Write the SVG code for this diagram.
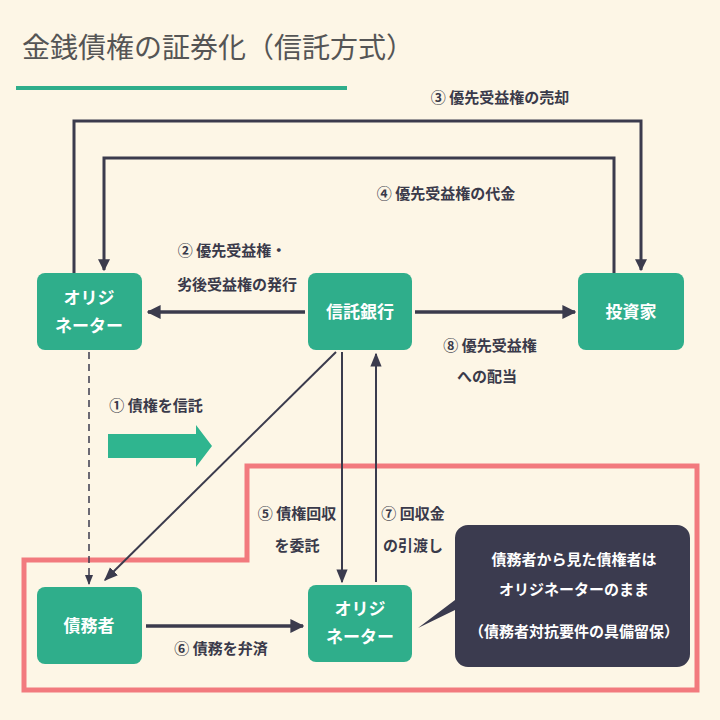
<svg xmlns="http://www.w3.org/2000/svg" width="720" height="720" viewBox="0 0 720 720">
<defs>
<style>
text{font-family:"Noto Sans CJK JP","Noto Sans",sans-serif;}
.lbl{font-size:15px;font-weight:bold;fill:#3a3a4a;text-anchor:middle;}
.node rect{fill:#2fae8b;}
.nt{font-size:17px;font-weight:bold;fill:#fff;text-anchor:middle;}
.ln{stroke:#3b3b4d;fill:none;}
</style>
<marker id="ah" viewBox="0 0 10 10" refX="9" refY="5" markerWidth="4" markerHeight="4" orient="auto"><path d="M0,0L10,5L0,10z" fill="#3b3b4d"/></marker>
<marker id="as" viewBox="0 0 10 10" refX="9" refY="5" markerWidth="7" markerHeight="7" orient="auto"><path d="M0,1L10,5L0,9z" fill="#3b3b4d"/></marker>
</defs>
<rect width="720" height="720" fill="#fdf6e6"/>
<text x="22" y="58" font-size="28" fill="#555">金銭債権の証券化（信託方式）</text>
<rect x="16" y="86" width="331" height="4" fill="#2fae8b"/>
<polygon points="24,560 247,560 247,466 697,466 697,690 24,690" fill="none" stroke="#f27a7e" stroke-width="5"/>
<g id="connectors">
<polyline class="ln" stroke-width="3" points="74,273 74,121 641,121 641,270" marker-end="url(#ah)"/>
<polyline class="ln" stroke-width="3" points="614,273 614,158 104,158 104,270" marker-end="url(#ah)"/>
<line class="ln" stroke-width="3.5" x1="305" y1="312" x2="148" y2="312" marker-end="url(#ah)"/>
<line class="ln" stroke-width="3.5" x1="415" y1="312" x2="575" y2="312" marker-end="url(#ah)"/>
<line class="ln" stroke-width="1.5" stroke-dasharray="7,5" x1="89" y1="352" x2="89" y2="584" marker-end="url(#as)"/>
<line class="ln" stroke-width="2" x1="336" y1="352" x2="105" y2="580" marker-end="url(#as)"/>
<line class="ln" stroke-width="2" x1="342" y1="352" x2="342" y2="582" marker-end="url(#as)"/>
<line class="ln" stroke-width="2" x1="376" y1="582" x2="376" y2="354" marker-end="url(#as)"/>
<line class="ln" stroke-width="3.5" x1="146" y1="626" x2="303" y2="626" marker-end="url(#ah)"/>
</g>
<polygon points="108,434 196,434 196,425 212,446 196,467 196,458 108,458" fill="#2fb58f"/>
<g id="n-orig1" class="node"><rect x="37" y="273" width="105" height="77" rx="8"/><text class="nt" x="89" y="304">オリジ</text><text class="nt" x="89" y="332">ネーター</text></g>
<g id="n-bank" class="node"><rect x="308" y="273" width="104" height="77" rx="8"/><text class="nt" x="360" y="318">信託銀行</text></g>
<g id="n-inv" class="node"><rect x="578" y="273" width="106" height="77" rx="8"/><text class="nt" x="631" y="318">投資家</text></g>
<g id="n-debtor" class="node"><rect x="37" y="587" width="105" height="77" rx="8"/><text class="nt" x="89" y="632">債務者</text></g>
<g id="n-orig2" class="node"><rect x="308" y="585" width="104" height="77" rx="8"/><text class="nt" x="360" y="615">オリジ</text><text class="nt" x="360" y="643">ネーター</text></g>
<g id="callout"><path d="M468,525H677a13,13 0 0 1 13,13V654a13,13 0 0 1 -13,13H468a13,13 0 0 1 -13,-13V610L418,628L455,600V538a13,13 0 0 1 13,-13z" fill="#3b3b4f"/>
<text x="574" y="565" font-size="15" font-weight="bold" fill="#fff" text-anchor="middle">債務者から見た債権者は</text>
<text x="574" y="595" font-size="15" font-weight="bold" fill="#fff" text-anchor="middle">オリジネーターのまま</text>
<text x="574" y="637" font-size="15" font-weight="bold" fill="#fff" text-anchor="middle">（債務者対抗要件の具備留保）</text></g>
<text class="lbl" x="500" y="103">③ 優先受益権の売却</text>
<text class="lbl" x="446" y="199">④ 優先受益権の代金</text>
<text class="lbl" x="232" y="256">② 優先受益権・</text>
<text class="lbl" x="237" y="290">劣後受益権の発行</text>
<text class="lbl" x="490" y="351">⑧ 優先受益権</text>
<text class="lbl" x="487" y="382">への配当</text>
<text class="lbl" x="156" y="411">① 債権を信託</text>
<text class="lbl" x="297" y="519">⑤ 債権回収</text>
<text class="lbl" x="297" y="551">を委託</text>
<text class="lbl" x="413" y="519">⑦ 回収金</text>
<text class="lbl" x="413" y="551">の引渡し</text>
<text class="lbl" x="221" y="654">⑥ 債務を弁済</text>
</svg>
